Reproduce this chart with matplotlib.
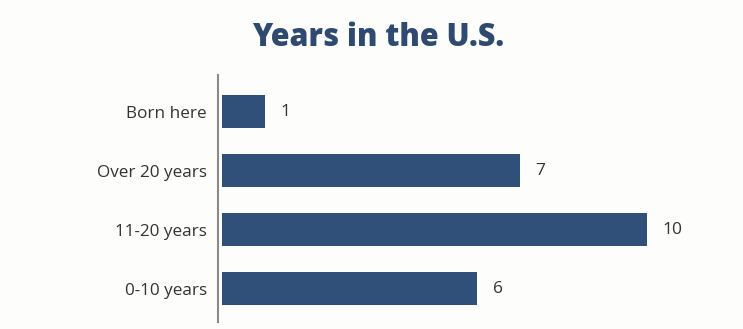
import matplotlib
matplotlib.use('Agg')
import matplotlib.pyplot as plt

# Years lived in the U.S.
categories = ['0-10 years', '11-20 years', 'Over 20 years', 'Born here']
counts = [6, 10, 7, 1]

bar_color = '#30507a'
text_color = '#333333'
plt.rcParams['font.family'] = ['Open Sans', 'DejaVu Sans']

fig = plt.figure(figsize=(7.43, 3.29), dpi=100, facecolor='#fdfdfb')
ax = fig.add_axes([222 / 743, 7 / 329, 510 / 743, 247 / 329])
ax.set_facecolor('none')

ax.barh(range(len(categories)), counts, height=0.56, color=bar_color)
for i, v in enumerate(counts):
    ax.text(v + 0.37, i, str(v), va='center', ha='left', fontsize=12.5, color=text_color)

ax.set_xlim(0, 12)
ax.set_ylim(-0.56, 3.62)
ax.set_yticks(range(len(categories)))
ax.set_yticklabels(categories)
ax.tick_params(axis='y', length=0, pad=8, labelsize=12.3, labelcolor=text_color)
ax.set_xticks([])

for side in ['top', 'right', 'bottom']:
    ax.spines[side].set_visible(False)
ax.spines['left'].set_position(('outward', 3))
ax.spines['left'].set_color('#8a8a8a')
ax.spines['left'].set_linewidth(1.5)

fig.text(378 / 743, 1 - 38 / 329, 'Years in the U.S.', ha='center', va='center',
         fontsize=22, fontweight='heavy', color='#2e4a72')

plt.savefig('out.png', dpi=100, facecolor=fig.get_facecolor())
